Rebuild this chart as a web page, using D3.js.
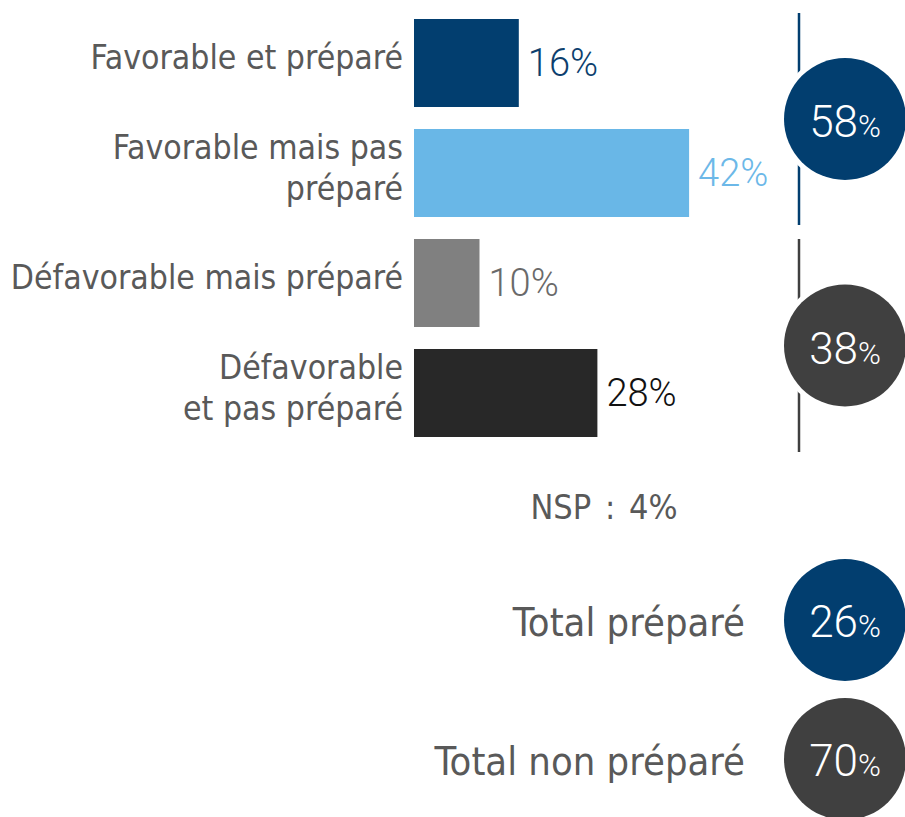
<!DOCTYPE html>
<html lang="fr">
<head>
<meta charset="UTF-8">
<title>Favorable / préparé</title>
<style>
  body { margin: 0; background: #fff; }
  svg { display: block; }
  .cat, .note, .total { font-family: "DejaVu Sans Condensed", "Liberation Sans", sans-serif; font-stretch: condensed; fill: #595959; }
  .num { font-family: Roboto, "Open Sans", sans-serif; font-weight: 300; }
</style>
</head>
<body>
<script src="https://d3js.org/d3.v7.min.js"></script>
<script>
// data
const categories = ['Favorable et préparé', 'Favorable mais pas préparé', 'Défavorable mais préparé', 'Défavorable et pas préparé']
const catLines = [['Favorable et préparé'], ['Favorable mais pas', 'préparé'], ['Défavorable mais préparé'], ['Défavorable', 'et pas préparé']]
const values = [16, 42, 10, 28]
const barColors = ['#023e6f', '#69b7e7', '#808080', '#282828']
const labelColors = ['#0d3f6e', '#6cb8e8', '#6a6a6a', '#111111']

const groupNames = ['Favorable', 'Défavorable']
const groupMembers = [[0, 1], [2, 3]]
const groupValues = [58, 38]
const groupColors = ['#023e6f', '#404040']

const nspLabel = 'NSP : 4%'
const totalLabels = ['Total préparé', 'Total non préparé']
const totalValues = [26, 70]
const totalColors = ['#023e6f', '#404040']

const width = 905
const height = 817

const svg = d3.select('body').append('svg')
  .attr('width', width)
  .attr('height', height)

const x = d3.scaleLinear().domain([0, 100]).range([414, 1069])
const y = d3.scaleBand().domain(categories).range([8, 448]).paddingInner(0.2).paddingOuter(0.1)
const bw = y.bandwidth()

// bars
svg.append('g').selectAll('rect')
  .data(categories)
  .join('rect')
  .attr('x', x(0))
  .attr('y', d => y(d))
  .attr('width', (d, i) => x(values[i]) - x(0))
  .attr('height', bw)
  .attr('fill', (d, i) => barColors[i])

// value labels
svg.append('g').selectAll('text')
  .data(categories)
  .join('text')
  .attr('class', 'num')
  .attr('x', (d, i) => x(values[i]) + 9)
  .attr('y', d => y(d) + bw / 2)
  .attr('dy', '0.35em')
  .attr('font-size', 38)
  .attr('fill', (d, i) => labelColors[i])
  .text((d, i) => values[i] + '%')

// category labels
const cat = svg.append('g').selectAll('text')
  .data(categories)
  .join('text')
  .attr('class', 'cat')
  .attr('text-anchor', 'end')
  .attr('font-size', 33.5)
  .attr('x', x(0) - 11)
  .attr('y', d => y(d) + bw / 2 + 6)

cat.selectAll('tspan')
  .data((d, i) => catLines[i].map((t, j, a) => ({ t, dy: j === 0 ? -(a.length - 1) * 20.5 : 41 })))
  .join('tspan')
  .attr('x', x(0) - 11)
  .attr('dy', d => d.dy)
  .text(d => d.t)

// group brackets + circles
const cx = 845
const r = 61
const pads = [[6, 8], [0, 15]]
groupMembers.forEach((m, gi) => {
  const y0 = y(categories[m[0]]) - pads[gi][0]
  const y1 = y(categories[m[m.length - 1]]) + bw + pads[gi][1]
  const cy = (y0 + y1) / 2
  const g = svg.append('g').attr('class', 'group').attr('data-name', groupNames[gi])
  g.append('line')
    .attr('x1', 799).attr('x2', 799)
    .attr('y1', y0).attr('y2', y1)
    .attr('stroke', groupColors[gi])
    .attr('stroke-width', 2.5)
  g.append('circle').attr('cx', cx).attr('cy', cy).attr('r', r + 5).attr('fill', '#fff')
  g.append('circle').attr('cx', cx).attr('cy', cy).attr('r', r).attr('fill', groupColors[gi])
  const t = g.append('text')
    .attr('class', 'num')
    .attr('x', cx)
    .attr('y', cy + 18)
    .attr('text-anchor', 'middle')
    .attr('fill', '#fff')
  t.append('tspan').attr('font-size', 44).text(groupValues[gi])
  t.append('tspan').attr('font-size', 31).text('%')
})

// NSP note
svg.append('text')
  .attr('class', 'note')
  .attr('x', 604)
  .attr('y', 519)
  .attr('text-anchor', 'middle')
  .attr('font-size', 34)
  .attr('word-spacing', 4)
  .text(nspLabel)

// totals
const ty = d3.scalePoint().domain(totalLabels).range([620, 759])
totalLabels.forEach((lab, i) => {
  const cy = ty(lab)
  svg.append('text')
    .attr('class', 'total')
    .attr('x', 745)
    .attr('y', cy + 16)
    .attr('text-anchor', 'end')
    .attr('font-size', 39.6)
    .text(lab)
  svg.append('circle').attr('cx', cx).attr('cy', cy).attr('r', r).attr('fill', totalColors[i])
  const t = svg.append('text')
    .attr('class', 'num')
    .attr('x', cx)
    .attr('y', cy + 17)
    .attr('text-anchor', 'middle')
    .attr('fill', '#fff')
  t.append('tspan').attr('font-size', 44).text(totalValues[i])
  t.append('tspan').attr('font-size', 31).text('%')
})
</script>
</body>
</html>
